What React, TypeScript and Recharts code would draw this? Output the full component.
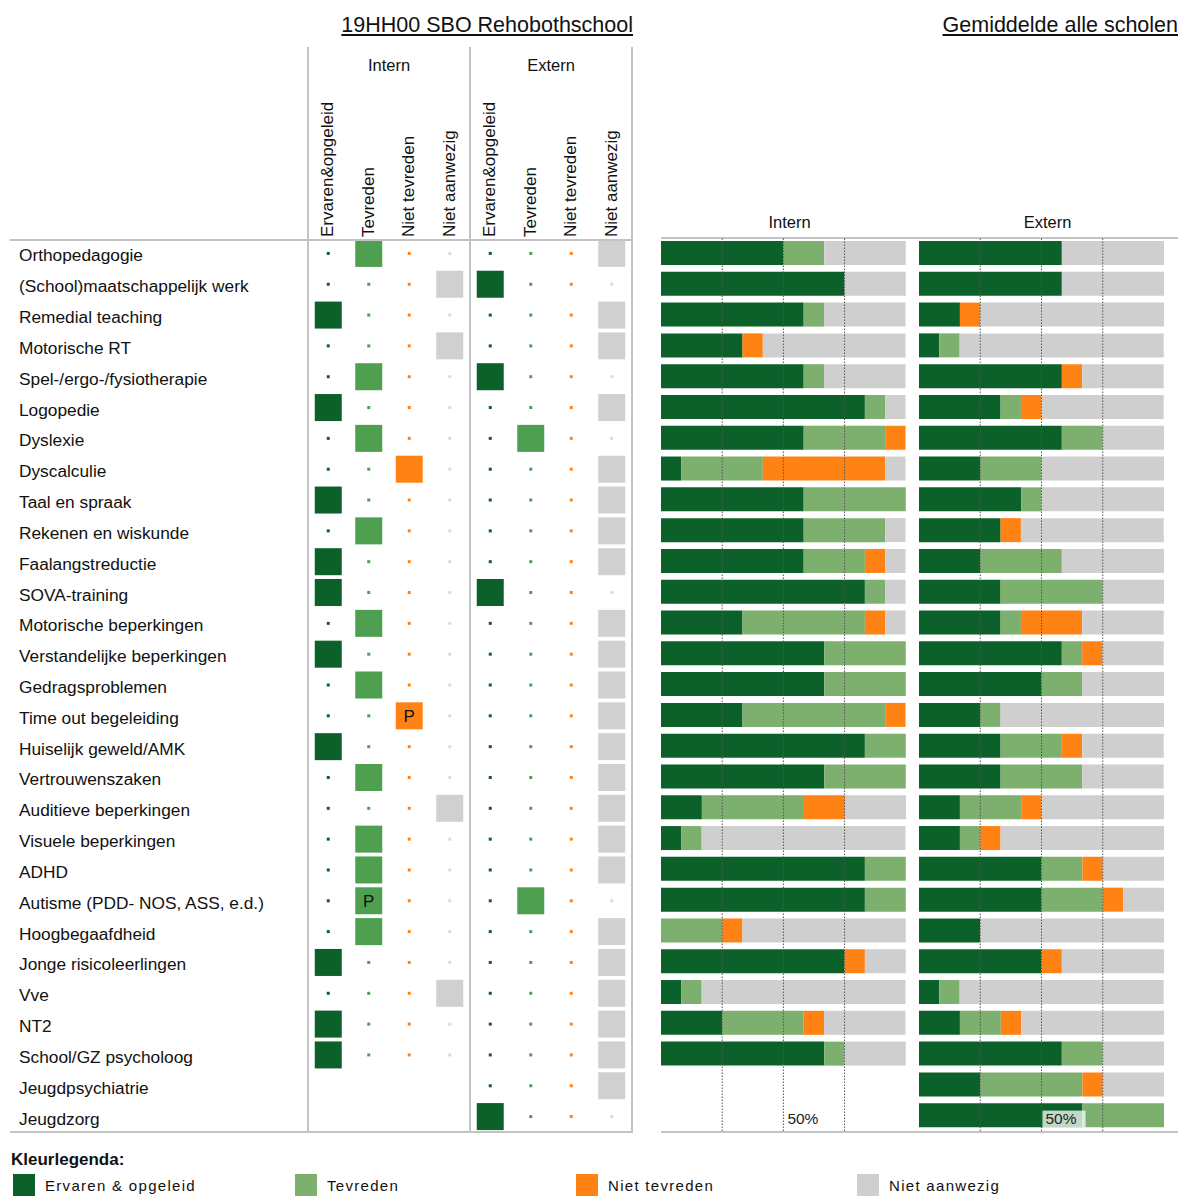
import React from "react";
import {
  Bar,
  BarChart,
  ReferenceDot,
  ReferenceLine,
  Scatter,
  ScatterChart,
  XAxis,
  YAxis
} from "recharts";

const rowLabels = [
  "Orthopedagogie",
  "(School)maatschappelijk werk",
  "Remedial teaching",
  "Motorische RT",
  "Spel-/ergo-/fysiotherapie",
  "Logopedie",
  "Dyslexie",
  "Dyscalculie",
  "Taal en spraak",
  "Rekenen en wiskunde",
  "Faalangstreductie",
  "SOVA-training",
  "Motorische beperkingen",
  "Verstandelijke beperkingen",
  "Gedragsproblemen",
  "Time out begeleiding",
  "Huiselijk geweld/AMK",
  "Vertrouwenszaken",
  "Auditieve beperkingen",
  "Visuele beperkingen",
  "ADHD",
  "Autisme (PDD- NOS, ASS, e.d.)",
  "Hoogbegaafdheid",
  "Jonge risicoleerlingen",
  "Vve",
  "NT2",
  "School/GZ psycholoog",
  "Jeugdpsychiatrie",
  "Jeugdzorg"
];

const columnLabels = ["Ervaren&opgeleid", "Tevreden", "Niet tevreden", "Niet aanwezig"];
const legendLabels = ["Ervaren & opgeleid", "Tevreden", "Niet tevreden", "Niet aanwezig"];

// school's own answer per row: index into columnLabels, null = no answer
const internChoice = [1, 3, 0, 3, 1, 0, 1, 2, 0, 1, 0, 0, 1, 0, 1, 2, 0, 1, 3, 1, 1, 1, 1, 0, 3, 0, 0, null, null];
const externChoice = [3, 0, 3, 3, 0, 3, 1, 3, 3, 3, 3, 0, 3, 3, 3, 3, 3, 3, 3, 3, 3, 1, 3, 3, 3, 3, 3, 3, 0];
const internMark = ["", "", "", "", "", "", "", "", "", "", "", "", "", "", "", "P", "", "", "", "", "", "P", "", "", "", "", "", "", ""];

// averages over all schools, percent
const internErvaren = [50, 75, 58.3, 33.3, 58.3, 83.3, 58.3, 8.3, 58.3, 58.3, 58.3, 83.3, 33.3, 66.7, 66.7, 33.3, 83.3, 66.7, 16.7, 8.3, 83.3, 83.3, 0, 75, 8.3, 25, 66.7, null, null];
const internTevreden = [16.7, 0, 8.3, 0, 8.3, 8.3, 33.3, 33.3, 41.7, 33.3, 25, 8.3, 50, 33.3, 33.3, 58.3, 16.7, 33.3, 41.7, 8.3, 16.7, 16.7, 25, 0, 8.3, 33.3, 8.3, null, null];
const internNietTevreden = [0, 0, 0, 8.3, 0, 0, 8.3, 50, 0, 0, 8.3, 0, 8.3, 0, 0, 8.3, 0, 0, 16.7, 0, 0, 0, 8.3, 8.3, 0, 8.3, 0, null, null];
const internAfwezig = [33.3, 25, 33.3, 58.3, 33.3, 8.3, 0, 8.3, 0, 8.3, 8.3, 8.3, 8.3, 0, 0, 0, 0, 0, 25, 83.3, 0, 0, 66.7, 16.7, 83.3, 33.3, 25, null, null];

const externErvaren = [58.3, 58.3, 16.7, 8.3, 58.3, 33.3, 58.3, 25, 41.7, 33.3, 25, 33.3, 33.3, 58.3, 50, 25, 33.3, 33.3, 16.7, 16.7, 50, 50, 25, 50, 8.3, 16.7, 58.3, 25, 66.7];
const externTevreden = [0, 0, 0, 8.3, 0, 8.3, 16.7, 25, 8.3, 0, 33.3, 41.7, 8.3, 8.3, 16.7, 8.3, 25, 33.3, 25, 8.3, 16.7, 25, 0, 0, 8.3, 16.7, 16.7, 41.7, 33.3];
const externNietTevreden = [0, 0, 8.3, 0, 8.3, 8.3, 0, 0, 0, 8.3, 0, 0, 25, 8.3, 0, 0, 8.3, 0, 8.3, 8.3, 8.3, 8.3, 0, 8.3, 0, 8.3, 0, 8.3, 0];
const externAfwezig = [41.7, 41.7, 75, 83.3, 33.3, 50, 25, 50, 50, 58.3, 41.7, 25, 33.3, 25, 33.3, 66.7, 33.3, 33.3, 50, 66.7, 25, 16.7, 75, 41.7, 83.3, 58.3, 25, 25, 0];

const DARK = "#0b6129";
const LIGHT = "#7daf6f";
const ORANGE = "#ff8214";
const GREY = "#cfcfcf";
const barColors = [DARK, LIGHT, ORANGE, GREY];
const cellColors = [DARK, "#4e9f50", ORANGE, "#d0d0d0"];
const dotColors = [DARK, "#4e9f50", ORANGE, "#dcdcdc"];
const FONT = '"Liberation Sans", Arial, sans-serif';
const LINE = "#c3c3c3";

const cells: any[] = [];
rowLabels.forEach((_, r) => {
  [internChoice[r], externChoice[r]].forEach((choice, g) => {
    if (choice === null) return;
    for (let c = 0; c < 4; c++) {
      cells.push({
        x: g * 4 + c,
        y: r,
        col: c,
        on: choice === c,
        mark: g === 0 && choice === c ? internMark[r] : ""
      });
    }
  });
});

const internData = rowLabels.map((name, i) => ({
  name,
  ervaren: internErvaren[i],
  tevreden: internTevreden[i],
  niet: internNietTevreden[i],
  afwezig: internAfwezig[i]
}));

const externData = rowLabels.map((name, i) => ({
  name,
  ervaren: externErvaren[i],
  tevreden: externTevreden[i],
  niet: externNietTevreden[i],
  afwezig: externAfwezig[i]
}));

function CellShape(props: any) {
  const { cx, cy, payload } = props;
  if (!payload.on) {
    return <rect x={cx - 1.5} y={cy - 1.5} width={3} height={3} fill={dotColors[payload.col]} />;
  }
  return (
    <g>
      <rect x={cx - 13.5} y={cy - 13.5} width={27} height={27} fill={cellColors[payload.col]} />
      {payload.mark ? (
        <text x={cx} y={cy + 1} textAnchor="middle" dominantBaseline="central" fontSize={17} fontFamily={FONT} fill="#111">
          {payload.mark}
        </text>
      ) : null}
    </g>
  );
}

function RowTick(props: any) {
  const { y, payload } = props;
  return (
    <text x={19} y={y + 2} textAnchor="start" dominantBaseline="central" fontSize={17.3} fontFamily={FONT} fill="#111">
      {rowLabels[payload.value]}
    </text>
  );
}

function ColumnTick(props: any) {
  const { x, payload } = props;
  return (
    <text
      transform={`translate(${x - 0.5},237) rotate(-90)`}
      textAnchor="start"
      dominantBaseline="central"
      fontSize={17}
      fontFamily={FONT}
      fill="#111"
    >
      {columnLabels[payload.value % 4]}
    </text>
  );
}

function FiftyLabel(props: any) {
  const { cx, cy, boxed } = props;
  return (
    <g>
      {boxed ? <rect x={cx + 1} y={cy - 5} width={43} height={17} fill="#ffffff" fillOpacity={0.75} /> : null}
      <text x={cx + 4} y={cy + 3} dominantBaseline="central" fontSize={15.5} fontFamily={FONT} fill="#222">
        50%
      </text>
    </g>
  );
}

function AverageChart({ data, boxed }: { data: any[]; boxed: boolean }) {
  return (
    <BarChart
      width={260}
      height={940}
      data={data}
      layout="vertical"
      margin={{ top: 38, right: 9, bottom: 9, left: 6 }}
      barSize={24}
    >
      <XAxis type="number" domain={[0, 100]} hide />
      <YAxis type="category" dataKey="name" hide />
      <Bar dataKey="ervaren" stackId="a" fill={barColors[0]} isAnimationActive={false} />
      <Bar dataKey="tevreden" stackId="a" fill={barColors[1]} isAnimationActive={false} />
      <Bar dataKey="niet" stackId="a" fill={barColors[2]} isAnimationActive={false} />
      <Bar dataKey="afwezig" stackId="a" fill={barColors[3]} isAnimationActive={false} />
      {[25, 50, 75].map((v) => (
        <ReferenceLine key={v} x={v} stroke="#555" strokeDasharray="1.5 1.5" strokeWidth={1} />
      ))}
      <ReferenceDot
        x={50}
        y="Jeugdzorg"
        r={0}
        shape={(p: any) => <FiftyLabel cx={p.cx} cy={p.cy} boxed={boxed} />}
      />
    </BarChart>
  );
}

const abs = (left: number, top: number, extra: React.CSSProperties = {}): React.CSSProperties => ({
  position: "absolute",
  left,
  top,
  ...extra
});

export default function App() {
  return (
    <div style={{ position: "absolute", left: 0, top: 0, width: 1181, height: 1196, background: "#fff", fontFamily: FONT, color: "#111" }}>
      <div style={abs(283, 13, { width: 350, textAlign: "right", fontSize: 21.5, textDecoration: "underline" })}>
        19HH00 SBO Rehobothschool
      </div>
      <div style={abs(828, 13, { width: 350, textAlign: "right", fontSize: 21.5, textDecoration: "underline" })}>
        Gemiddelde alle scholen
      </div>
      <div style={abs(308, 56, { width: 162, textAlign: "center", fontSize: 16.5 })}>Intern</div>
      <div style={abs(470, 56, { width: 162, textAlign: "center", fontSize: 16.5 })}>Extern</div>

      <div style={abs(0, 0)}>
        <ScatterChart width={640} height={1140} margin={{ top: 40, right: 8, bottom: 8, left: 0 }}>
          <XAxis
            type="number"
            dataKey="x"
            orientation="top"
            domain={[-0.5, 7.5]}
            ticks={[0, 1, 2, 3, 4, 5, 6, 7]}
            interval={0}
            height={198}
            axisLine={false}
            tickLine={false}
            tick={<ColumnTick />}
          />
          <YAxis
            type="number"
            dataKey="y"
            domain={[-0.5, 28.5]}
            reversed
            ticks={rowLabels.map((_, i) => i)}
            interval={0}
            width={308}
            axisLine={false}
            tickLine={false}
            tick={<RowTick />}
          />
          <Scatter data={cells} shape={CellShape} isAnimationActive={false} />
        </ScatterChart>
      </div>

      {/* table frame */}
      <div style={abs(307, 47, { width: 2, height: 1086, background: LINE })} />
      <div style={abs(469, 47, { width: 2, height: 1086, background: LINE })} />
      <div style={abs(631, 47, { width: 2, height: 1086, background: LINE })} />
      <div style={abs(10, 239, { width: 623, height: 2, background: LINE })} />
      <div style={abs(10, 1131, { width: 623, height: 2, background: LINE })} />

      <div style={abs(667, 213, { width: 245, textAlign: "center", fontSize: 16.5 })}>Intern</div>
      <div style={abs(925, 213, { width: 245, textAlign: "center", fontSize: 16.5 })}>Extern</div>
      <div style={abs(661, 237, { width: 517, height: 2, background: LINE })} />
      <div style={abs(661, 1131, { width: 517, height: 2, background: LINE })} />
      <div style={abs(655, 200)}>
        <AverageChart data={internData} boxed={false} />
      </div>
      <div style={abs(913, 200)}>
        <AverageChart data={externData} boxed />
      </div>

      <div style={abs(11, 1150, { fontSize: 17, fontWeight: "bold" })}>Kleurlegenda:</div>
      {legendLabels.map((label, i) => (
        <div key={label} style={abs([13, 295, 576, 857][i], 1174, { display: "flex", alignItems: "center" })}>
          <div style={{ width: 22, height: 22, background: barColors[i] }} />
          <span style={{ marginLeft: 10, fontSize: 15, letterSpacing: 1.3 }}>{label}</span>
        </div>
      ))}
    </div>
  );
}
